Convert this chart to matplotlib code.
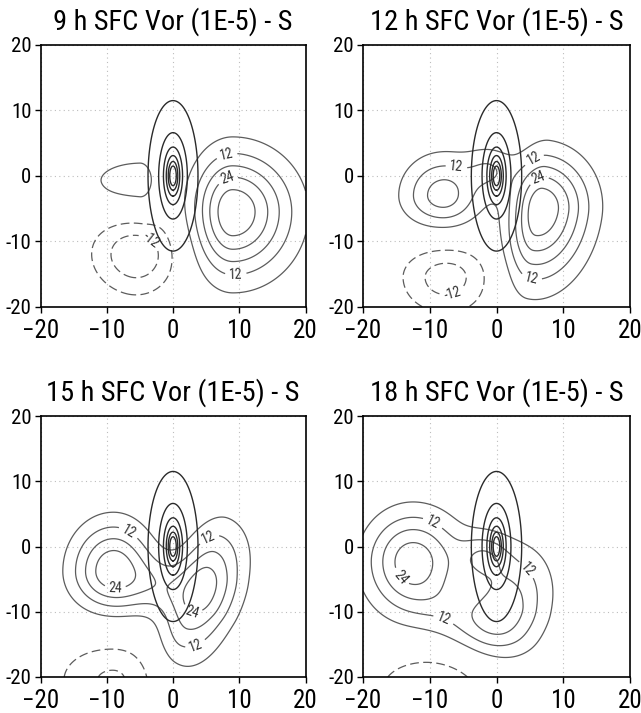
import numpy as np
import matplotlib
matplotlib.use("Agg")
import matplotlib.pyplot as plt
from matplotlib import font_manager as fm

# titres et axes
panel_titles = ["9 h SFC Vor (1E-5) - S", "12 h SFC Vor (1E-5) - S",
                "15 h SFC Vor (1E-5) - S", "18 h SFC Vor (1E-5) - S"]
axis_ticks = [-20, -10, 0, 10, 20]

# tourbillon principal (contours noirs) : demi-axes en y, rapport y/x
vortex_radii = [1.5, 2.2, 3.1, 4.4, 6.6, 11.5]
vortex_aspect = 3.05

# anomalie de tourbillon (contours gris)
anom_levels = [-18, -12, -6, 6, 12, 18, 24, 30]
anom_labelled = [-12, 12, 24]

# noyaux : x0, y0, ampl, sig_g, sig_d, sig_b, sig_h, incl(deg)
blobs_09h = np.array([
    [9.0, -5.5, 35, 4.0, 6.1, 6.6, 6.1, 0],
    [-5.0, -1.0, 9, 7.0, 2.0, 4.2, 3.3, 0],
    [-5.5, -12.0, -17, 4.8, 4.2, 4.3, 4.2, 15],
])
blobs_12h = np.array([
    [6.5, -5.0, 35, 3.0, 5.0, 7.5, 5.6, 8],
    [-8.0, -3.0, 21, 4.2, 3.8, 3.3, 4.2, 0],
    [-1.0, 1.0, 10, 2.5, 2.5, 2.5, 2.5, 0],
    [-7.5, -15.5, -15, 4.8, 4.5, 4.0, 3.3, 0],
])
blobs_15h = np.array([
    [-9.0, -3.8, 29, 4.3, 4.0, 4.0, 5.1, 0],
    [5.4, -3.5, 19, 3.0, 3.8, 4.0, 5.5, 20],
    [3.3, -9.6, 19, 3.0, 3.8, 6.5, 4.0, 20],
    [-2.0, -6.0, 9, 3.0, 3.0, 3.0, 3.0, 0],
    [-9.0, -20.5, -13, 6.0, 5.0, 4.0, 4.0, 0],
])
blobs_18h = np.array([
    [-12.5, -2.3, 28, 4.8, 5.0, 5.5, 5.2, 0],
    [-2.0, -12.5, 11, 6.0, 5.0, 3.3, 2.8, 25],
    [1.8, -8.5, 19.5, 4.0, 4.2, 4.0, 5.8, 15],
    [-2.0, -1.5, 12, 2.5, 2.5, 2.5, 2.5, 0],
    [-10.0, -22.0, -12, 6.0, 6.0, 4.0, 4.0, 0],
])
all_blobs = [blobs_09h, blobs_12h, blobs_15h, blobs_18h]

# positions des étiquettes de contours
labels_09h = [(8, 3.7), (8, 0.2), (9.5, -15.6), (-2, -8)]
labels_12h = [(-6, 1.4), (5, 3.6), (6, 0.3), (5, -16.9), (-6.6, -18)]
labels_15h = [(-6, 3.4), (-8.7, -5.9), (5, 2.1), (2.6, -10.9), (4, -16.5)]
labels_18h = [(-8.8, 5.1), (-14.6, -4.9), (-7.1, -9), (5, -3.1)]
all_labels = [labels_09h, labels_12h, labels_15h, labels_18h]

# cadres des panneaux en pixels (gauche, haut, droite, bas)
cadres = [(40.5, 45, 305.5, 306.7), (363, 45, 630, 306.7),
          (40.5, 416, 305.5, 677), (363, 416, 630, 677)]
W, H = 641, 713


def choisir_police():
    # police étroite si possible, sinon police normale plus petite
    entrees = fm.fontManager.ttflist
    for nom in ["Roboto Condensed", "Liberation Sans Narrow", "Open Sans Condensed"]:
        if any(f.name == nom for f in entrees):
            return nom, "normal", 1.0
    for nom in ["DejaVu Sans", "Noto Sans", "Open Sans", "Roboto"]:
        if any(f.name == nom and "condensed" in str(f.stretch) for f in entrees):
            return nom, "condensed", 1.0
    return "Liberation Sans", "normal", 0.82


nom_police, etirement, echelle = choisir_police()
police = dict(family=[nom_police, "DejaVu Sans"], stretch=etirement)
gris = "#5c5c5c"
tirets = (0, (7, 3.5))


def champ_anomalie(X, Y, blobs):
    Z = np.zeros_like(X)
    for x0, y0, amp, sg, sd, sb, sh, incl in blobs:
        t = np.deg2rad(incl)
        dx = X - x0
        dy = Y - y0
        dxr = dx * np.cos(t) - dy * np.sin(t)
        dyr = dx * np.sin(t) + dy * np.cos(t)
        sx = np.where(dxr < 0, sg, sd)
        sy = np.where(dyr < 0, sb, sh)
        Z += amp * np.exp(-0.5 * ((dxr / sx) ** 2 + (dyr / sy) ** 2))
    return Z


def style(niveaux):
    return [tirets if v < 0 else "solid" for v in niveaux]


x = np.linspace(-20, 20, 401)
X, Y = np.meshgrid(x, x)
R = np.sqrt((X * vortex_aspect) ** 2 + Y ** 2)

niv_libres = [v for v in anom_levels if v not in anom_labelled]

fig = plt.figure(figsize=(W / 100, H / 100), dpi=100)

for k in range(4):
    g, h, d, b = cadres[k]
    ax = fig.add_axes([g / W, 1 - b / H, (d - g) / W, (b - h) / H])

    Z = champ_anomalie(X, Y, all_blobs[k])
    ax.contour(X, Y, Z, levels=niv_libres, colors=gris, linewidths=0.9,
               linestyles=style(niv_libres))
    cs = ax.contour(X, Y, Z, levels=anom_labelled, colors=gris, linewidths=0.9,
                    linestyles=style(anom_labelled))
    txts = ax.clabel(cs, manual=all_labels[k], inline=True, fmt="%d",
                     fontsize=10 * echelle, inline_spacing=2, colors="#333333")
    for t in txts:
        t.set_family(police["family"])
        t.set_stretch(etirement)

    ax.contour(X, Y, R, levels=vortex_radii, colors="#2a2a2a", linewidths=1.0)

    ax.set_xlim(-20, 20)
    ax.set_ylim(-20, 20)
    ax.set_xticks(axis_ticks)
    ax.set_yticks(axis_ticks)
    ax.set_xticklabels([str(v).replace("-", "\u2212") for v in axis_ticks],
                       fontsize=18 * echelle, **police)
    ax.set_yticklabels([str(v) for v in axis_ticks], fontsize=15 * echelle, **police)
    ax.tick_params(direction="out", length=4.5, width=1)
    ax.tick_params(axis="x", pad=4)
    ax.tick_params(axis="y", pad=2)
    ax.grid(True, color="#bdbdbd", linestyle=(0, (1, 3)), linewidth=0.8)
    for s in ax.spines.values():
        s.set_linewidth(1.2)

    fig.text(((g + d) / 2) / W, 1 - (h - 23) / H, panel_titles[k],
             ha="center", va="center", fontsize=20.5 * echelle, **police)

fig.savefig("out.png", dpi=100)
